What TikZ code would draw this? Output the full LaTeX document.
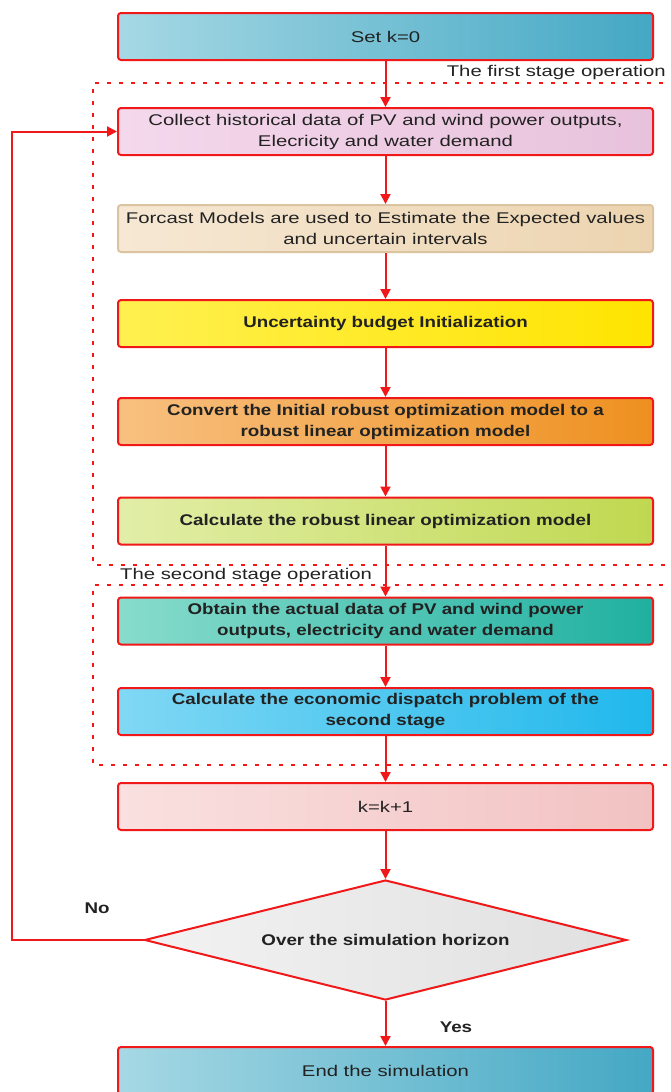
\documentclass[tikz,border=0pt]{standalone}
\usepackage{fontspec}
\setmainfont[FakeStretch=1.31,BoldFeatures={FakeStretch=1.21}]{Liberation Sans}
\usetikzlibrary{shapes.geometric,arrows.meta}
\definecolor{txt}{HTML}{222222}
\definecolor{bordred}{HTML}{F01818}
\definecolor{tealL}{HTML}{A6D8E4}\definecolor{tealR}{HTML}{44A8C4}
\definecolor{pinkL}{HTML}{F4D8EC}\definecolor{pinkR}{HTML}{E8C2DC}
\definecolor{tanL}{HTML}{F6E8D4}\definecolor{tanR}{HTML}{ECD4B0}\definecolor{tanB}{HTML}{DCC4A0}
\definecolor{yelL}{HTML}{FFF050}\definecolor{yelR}{HTML}{FFE400}
\definecolor{orL}{HTML}{F8C080}\definecolor{orR}{HTML}{EE9020}
\definecolor{grnL}{HTML}{E2EEA8}\definecolor{grnR}{HTML}{C0D850}
\definecolor{tgL}{HTML}{88DCCC}\definecolor{tgR}{HTML}{20B0A0}
\definecolor{bluL}{HTML}{80D8F4}\definecolor{bluR}{HTML}{20B8EC}
\definecolor{rosL}{HTML}{FAE0E0}\definecolor{rosR}{HTML}{F2C2C2}
\definecolor{gryL}{HTML}{F2F2F2}\definecolor{gryR}{HTML}{E0E0E0}
\tikzset{
  fbox/.style={draw=bordred, line width=2pt, rounded corners=3pt, minimum width=535pt, minimum height=47pt, inner xsep=1pt, inner ysep=2pt, align=center, text=txt, font=\fontsize{15.5}{21}\selectfont},
  conn/.style={draw=bordred, line width=2pt, -{Triangle[length=10pt,width=10pt]}},
  stagebox/.style={draw=bordred, line width=2.6pt, dash pattern=on 4pt off 8pt},
  lbl/.style={text=txt, font=\fontsize{15.5}{19}\selectfont, inner sep=0pt},
  bf/.style={font=\fontsize{15.5}{21}\selectfont\bfseries},
}
\begin{document}
\begin{tikzpicture}[x=1pt,y=-1pt]
\useasboundingbox (0,0) rectangle (670,1092);
\fill[white] (0,0) rectangle (670,1092);
% stage frames
\draw[stagebox] (675,83) -- (93,83) -- (93,565) -- (675,565);
\draw[stagebox] (675,585) -- (93,585) -- (93,765) -- (675,765);
\node[lbl, anchor=east] (l1) at (666,72) {The first stage operation};
\node[lbl, anchor=west] (l2) at (120,575) {The second stage operation};
% boxes
\node[fbox, left color=tealL, right color=tealR] (s0) at (385.5,36.5) {Set k=0};
\node[fbox, left color=pinkL, right color=pinkR] (s1) at (385.5,131.5) {Collect historical data of PV and wind power outputs,\\Elecricity and water demand};
\node[fbox, draw=tanB, left color=tanL, right color=tanR] (s2) at (385.5,228.5) {Forcast Models are used to Estimate the Expected values\\and uncertain intervals};
\node[fbox, bf, left color=yelL, right color=yelR] (s3) at (385.5,323.5) {Uncertainty budget Initialization};
\node[fbox, bf, left color=orL, right color=orR] (s4) at (385.5,421.5) {Convert the Initial robust optimization model to a\\robust linear optimization model};
\node[fbox, bf, left color=grnL, right color=grnR] (s5) at (385.5,521) {Calculate the robust linear optimization model};
\node[fbox, bf, left color=tgL, right color=tgR] (s6) at (385.5,621) {Obtain the actual data of PV and wind power\\outputs, electricity and water demand};
\node[fbox, bf, left color=bluL, right color=bluR] (s7) at (385.5,711.5) {Calculate the economic dispatch problem of the\\second stage};
\node[fbox, left color=rosL, right color=rosR] (s8) at (385.5,806.5) {k=k+1};
\node[diamond, draw=bordred, line width=2pt, aspect=4, minimum width=482pt, minimum height=120pt, inner sep=1pt, left color=gryL, right color=gryR, text=txt, font=\fontsize{15.5}{19}\selectfont\bfseries] (d) at (385.5,940) {Over the simulation horizon};
\node[fbox, left color=tealL, right color=tealR] (s9) at (385.5,1070.5) {End the simulation};
% labels
\node[lbl, font=\fontsize{15.5}{19}\selectfont\bfseries] (no) at (97,908) {No};
\node[lbl, font=\fontsize{15.5}{19}\selectfont\bfseries] (yes) at (456,1027) {Yes};
% connectors
\draw[conn] (s0) -- (s1);
\draw[conn] (s1) -- (s2);
\draw[conn] (s2) -- (s3);
\draw[conn] (s3) -- (s4);
\draw[conn] (s4) -- (s5);
\draw[conn] (s5) -- (s6);
\draw[conn] (s6) -- (s7);
\draw[conn] (s7) -- (s8);
\draw[conn] (s8) -- (d);
\draw[conn] (d) -- (s9);
\coordinate (c1) at (12,940);
\coordinate (c2) at (12,131.5);
\draw[conn] (d.west) -- (c1) -- (c2) -- (s1.west);
\end{tikzpicture}
\end{document}
